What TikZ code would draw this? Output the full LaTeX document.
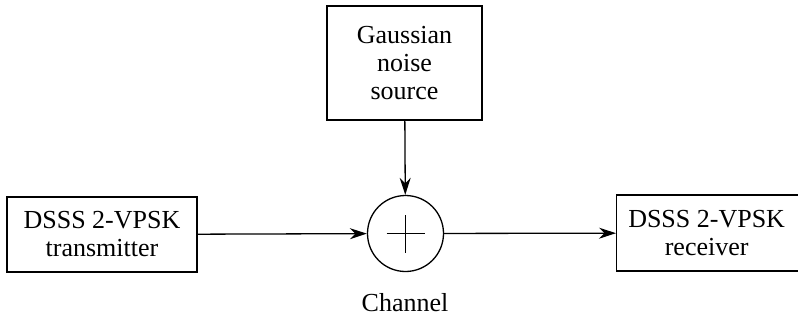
\documentclass[tikz,border=0pt]{standalone}
\usepackage{fontspec}
\setmainfont{Liberation Serif}
\usetikzlibrary{shapes.geometric, arrows.meta}
\tikzstyle{block} = [rectangle, minimum width=190pt, minimum height=75pt, text centered, align=center, draw=black, line width=1.3pt, font=\fontsize{26}{28}\selectfont]
\tikzstyle{adder} = [circle, minimum size=76pt, inner sep=0pt, draw=black, line width=1.3pt]
\tikzstyle{arrow} = [line width=1.3pt, -{Stealth[length=17pt, width=11pt]}]

\begin{document}
\begin{tikzpicture}[x=1pt, y=-1pt]
        \useasboundingbox (0,0) rectangle (798,322);
        \node (tx) [block] at (102,234.5) {DSSS 2-VPSK\\transmitter};
        \node (ns) [block, minimum width=155pt, minimum height=114pt] at (404.5,63) {Gaussian\\noise\\source};
        \node (ch) [adder] at (405.5,233.5) {};
        \node (rx) [block, anchor=west, minimum width=240pt, minimum height=76pt] at (616,233) {\hspace*{-60pt}DSSS 2-VPSK\\\hspace*{-60pt}receiver};
        \node (lbl) [font=\fontsize{26}{28}\selectfont] at (405,303) {Channel};

        \draw [line width=1.3pt] ([xshift=-19pt]ch.center) -- ([xshift=19pt]ch.center);
        \draw [line width=1.3pt] ([yshift=-19pt]ch.center) -- ([yshift=19pt]ch.center);

        \draw [arrow] (tx) -- (ch);
        \draw [arrow] (ns) -- (ch);
        \draw [arrow] (ch) -- (rx);
        \end{tikzpicture}
\end{document}
